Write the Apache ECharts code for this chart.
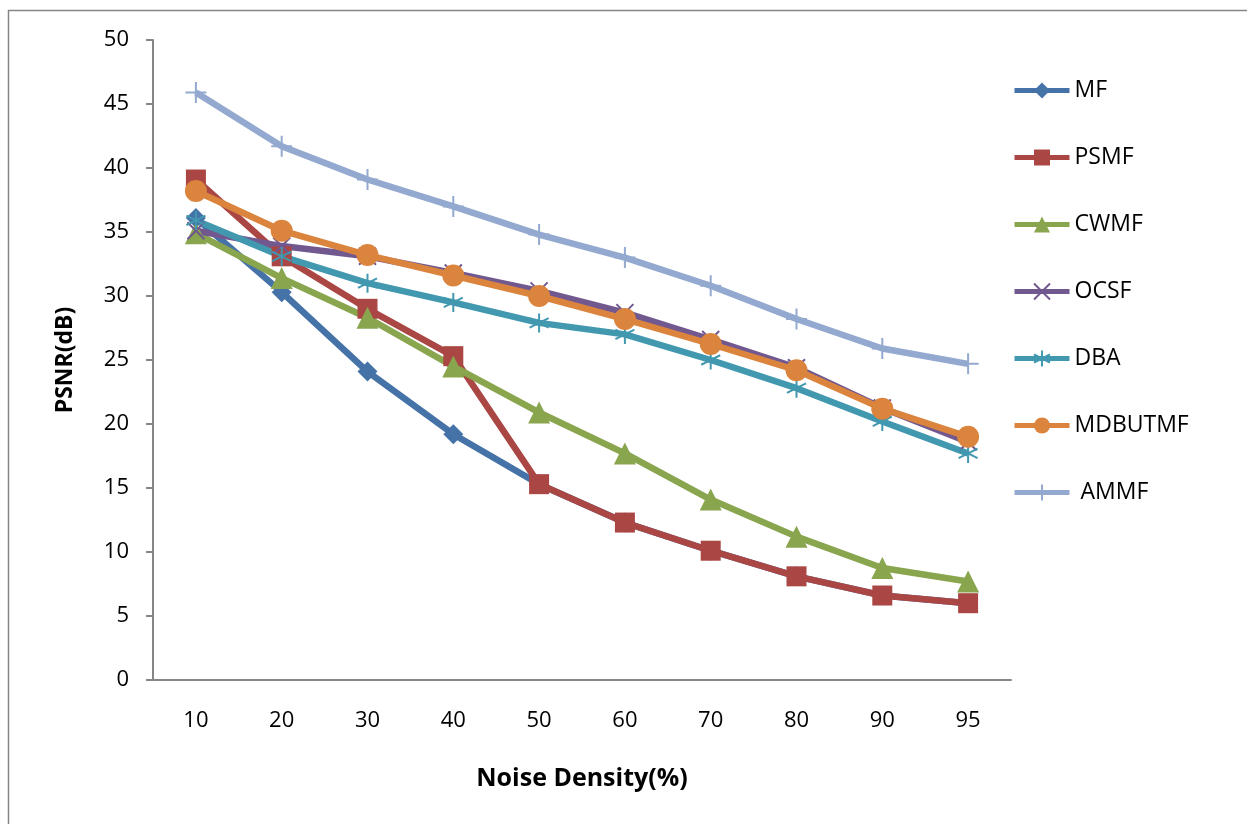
<!DOCTYPE html>
<html>
<head>
<meta charset="utf-8">
<script src="https://cdn.jsdelivr.net/npm/echarts@6/dist/echarts.min.js"></script>
<style>
  html, body { margin: 0; padding: 0; background: #fff; }
  #chart { width: 1247px; height: 824px; }
</style>
</head>
<body>
<div id="chart"></div>
<script>
  // noise density categories
  var categories = ['10', '20', '30', '40', '50', '60', '70', '80', '90', '95'];
  // PSNR values (dB)
  var mf      = [36.1, 30.3, 24.1, 19.2, 15.3, 12.3, 10.1, 8.1, 6.6, 6.0];
  var psmf    = [39.1, 33.1, 29.0, 25.3, 15.3, 12.3, 10.1, 8.1, 6.6, 6.0];
  var cwmf    = [34.9, 31.4, 28.3, 24.5, 20.9, 17.7, 14.1, 11.2, 8.75, 7.7];
  var ocsf    = [35.1, 33.9, 33.1, 31.8, 30.4, 28.7, 26.6, 24.4, 21.25, 18.6];
  var dba     = [35.9, 33.1, 31.0, 29.5, 27.9, 27.0, 25.0, 22.8, 20.2, 17.7];
  var mdbutmf = [38.2, 35.1, 33.2, 31.6, 30.0, 28.2, 26.25, 24.2, 21.2, 19.0];
  var ammf    = [45.9, 41.7, 39.1, 37.0, 34.8, 33.0, 30.8, 28.2, 25.9, 24.7];

  var chart = echarts.init(document.getElementById('chart'));
  var font = '"Open Sans", "Liberation Sans", sans-serif';

  var xPath = 'path://M0,0L10,10M10,0L0,10';
  var starPath = 'path://M5,0L5,10M0,2.5L10,7.5M10,2.5L0,7.5';
  var plusPath = 'path://M5,0L5,10M0,5L10,5';

  function line(name, data, color, symbol, size, stroked) {
    var s = {
      name: name,
      type: 'line',
      data: data,
      symbol: symbol,
      symbolSize: size,
      showAllSymbol: true,
      lineStyle: { color: color, width: 6.5 },
      itemStyle: { color: color }
    };
    if (stroked) {
      s.itemStyle = { color: 'rgba(0,0,0,0)', borderColor: color, borderWidth: 2 };
    }
    return s;
  }

  chart.setOption({
    animation: false,
    textStyle: { fontFamily: font },
    graphic: [{
      type: 'rect',
      shape: { x: 8.5, y: 10.5, width: 1260, height: 840 },
      style: { fill: 'none', stroke: '#868686', lineWidth: 1.5 },
      silent: true
    }],
    grid: { left: 153, right: 236, top: 40, bottom: 144 },
    legend: {
      orient: 'vertical',
      left: 1007,
      top: 74,
      itemWidth: 55,
      itemHeight: 20,
      itemGap: 44,
      lineStyle: { width: 5 },
      textStyle: { fontSize: 23, color: '#000', fontFamily: font },
      data: ['MF', 'PSMF', 'CWMF', 'OCSF', 'DBA', 'MDBUTMF', 'AMMF'],
      formatter: function (n) { return n === 'AMMF' ? ' AMMF' : n; }
    },
    xAxis: {
      type: 'category',
      data: categories,
      name: 'Noise Density(%)',
      nameLocation: 'middle',
      nameGap: 86,
      nameTextStyle: { fontSize: 25, fontWeight: 'bold', color: '#000', fontFamily: font },
      axisLine: { lineStyle: { color: '#868686', width: 2 } },
      axisTick: { length: 8, lineStyle: { color: '#868686', width: 2 } },
      axisLabel: { fontSize: 22, color: '#000', margin: 30 },
      splitLine: { show: false }
    },
    yAxis: {
      type: 'value',
      min: 0,
      max: 50,
      interval: 5,
      name: 'PSNR(dB)',
      nameLocation: 'middle',
      nameGap: 76,
      nameTextStyle: { fontSize: 23, fontWeight: 'bold', color: '#000', fontFamily: font },
      axisLine: { show: true, lineStyle: { color: '#868686', width: 2 } },
      axisTick: { show: true, length: 7, lineStyle: { color: '#868686', width: 2 } },
      axisLabel: { fontSize: 22, color: '#000', margin: 24 },
      splitLine: { show: false }
    },
    series: [
      line('MF', mf, '#4572A7', 'diamond', 20),
      line('PSMF', psmf, '#AA4643', 'rect', 20),
      line('CWMF', cwmf, '#89A54E', 'triangle', 22),
      line('OCSF', ocsf, '#71588F', xPath, 17, true),
      line('DBA', dba, '#4198AF', starPath, 19, true),
      line('MDBUTMF', mdbutmf, '#DB843D', 'circle', 22),
      line('AMMF', ammf, '#93A9CF', plusPath, 21, true)
    ]
  });
</script>
</body>
</html>
